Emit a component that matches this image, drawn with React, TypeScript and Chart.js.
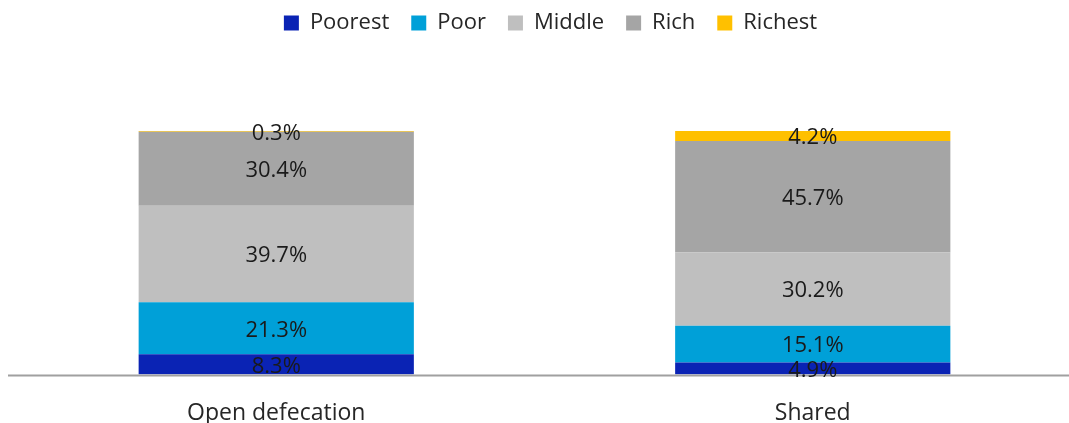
import React, { useEffect, useRef } from "react";
import { Chart, registerables } from "chart.js";

Chart.register(...registerables);

const categories = ["Open defecation", "Shared"];
const seriesNames = ["Poorest", "Poor", "Middle", "Rich", "Richest"];
const poorest = [8.3, 4.9];
const poor = [21.3, 15.1];
const middle = [39.7, 30.2];
const rich = [30.4, 45.7];
const richest = [0.3, 4.2];
const colors = ["#0A23B4", "#00A0D8", "#BFBFBF", "#A5A5A5", "#FFC000"];

const FONT = "'Open Sans', 'DejaVu Sans', sans-serif";
const PAD_TOP = -18;
const CHART_TOP = 123;
const LEGEND_SHIFT = 6;

const labelPlugin = {
  id: "segLabels",
  beforeLayout(chart: any) {
    const lg = chart.legend;
    if (lg && !lg._patched) {
      const orig = lg.fit.bind(lg);
      lg.fit = function () {
        orig();
        this.height = CHART_TOP - PAD_TOP;
      };
      lg._patched = true;
    }
  },
  afterLayout(chart: any) {
    const lg = chart.legend;
    if (lg) {
      lg.left += LEGEND_SHIFT;
      lg.right += LEGEND_SHIFT;
    }
  },
  afterDatasetsDraw(chart: any) {
    const ctx = chart.ctx;
    ctx.save();
    ctx.strokeStyle = "#a0a0a0";
    ctx.lineWidth = 2;
    ctx.beginPath();
    ctx.moveTo(0, chart.chartArea.bottom + 1);
    ctx.lineTo(chart.width, chart.chartArea.bottom + 1);
    ctx.stroke();
    ctx.font = `22px ${FONT}`;
    ctx.fillStyle = "#1a1a1a";
    ctx.textAlign = "center";
    ctx.textBaseline = "middle";
    chart.data.datasets.forEach((ds: any, i: number) => {
      const meta = chart.getDatasetMeta(i);
      meta.data.forEach((el: any, j: number) => {
        const v = ds.data[j];
        const y = (el.y + el.base) / 2;
        ctx.fillText(v.toFixed(1) + "%", el.x, y + 2);
      });
    });
    ctx.restore();
  },
};

export default function App() {
  const ref = useRef<HTMLCanvasElement>(null);
  useEffect(() => {
    if (!ref.current) return;
    const all = [poorest, poor, middle, rich, richest];
    const chart = new Chart(ref.current, {
      type: "bar",
      data: {
        labels: categories,
        datasets: seriesNames.map((n, i) => ({
          label: n,
          data: all[i],
          backgroundColor: colors[i],
          borderWidth: 0,
          categoryPercentage: 0.513,
          barPercentage: 1,
        })),
      },
      options: {
        animation: false,
        responsive: false,
        maintainAspectRatio: false,
        layout: { padding: { top: PAD_TOP, bottom: -29, left: 0, right: 0 } },
        plugins: {
          legend: {
            position: "top",
            labels: {
              boxWidth: 15,
              boxHeight: 15,
              padding: 22,
              color: "#262626",
              font: { family: FONT, size: 22 },
            },
          },
          tooltip: { enabled: false },
          title: { display: false },
        },
        scales: {
          x: {
            stacked: true,
            grid: { display: false, drawTicks: false },
            border: { display: false },
            ticks: {
              color: "#262626",
              font: { family: FONT, size: 23 },
              padding: 25,
            },
          },
          y: {
            stacked: true,
            display: false,
            min: 0,
            max: 100,
          },
        },
      },
      plugins: [labelPlugin],
    });
    return () => chart.destroy();
  }, []);
  return (
    <div style={{ position: "absolute", left: 8, top: 8, width: 1061, height: 415, overflow: "hidden" }}>
      <canvas ref={ref} width={1073} height={415} style={{ display: "block" }} />
    </div>
  );
}
